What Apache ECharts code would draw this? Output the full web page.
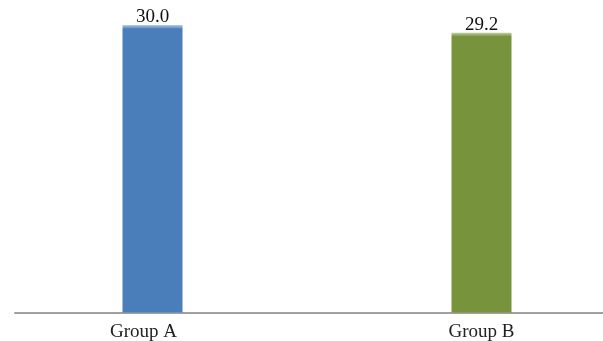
<!DOCTYPE html>
<html><head><meta charset="utf-8">
<script src="https://cdn.jsdelivr.net/npm/echarts@6/dist/echarts.min.js"></script>
<style>html,body{margin:0;padding:0;background:#fff}#c{width:603px;height:341px}</style>
</head><body><div id="c"></div>
<script>
const categories = ['Group A', 'Group B'];
const values = [30.0, 29.2];
const colors = ['#4a7ebb', '#77933c'];
const lightTops = ['#b5cce8', '#c2d3a3'];

const labelPads = [[0, 18, 0, 0], [0, 0, 0, 0]];

const chart = echarts.init(document.getElementById('c'), null, {renderer: 'canvas'});
chart.setOption({
  animation: false,
  grid: [
    {left: -12, width: 658, top: 25, bottom: 28.5, outerBoundsMode: 'none', containLabel: false},
    {left: 15, right: 0, top: 25, bottom: 28.5, outerBoundsMode: 'none', containLabel: false}
  ],
  xAxis: [
    {type: 'category', gridIndex: 0,
     data: categories.map((c, i) => ({value: c, textStyle: {padding: labelPads[i]}})),
     axisLine: {show: false}, axisTick: {show: false},
     axisLabel: {color: '#222', fontFamily: 'Liberation Serif', fontSize: 19, margin: 10}},
    {type: 'category', data: categories, gridIndex: 1,
     axisLine: {show: true, lineStyle: {color: '#a0a0a0', width: 2}},
     axisTick: {show: false}, axisLabel: {show: false}}
  ],
  yAxis: [
    {type: 'value', min: 0, max: 30, gridIndex: 0, show: false},
    {type: 'value', min: 0, max: 30, gridIndex: 1, show: false}
  ],
  series: [{
    type: 'bar', xAxisIndex: 0, yAxisIndex: 0, barWidth: 60, z: 3,
    data: values.map((v, i) => ({
      value: v,
      itemStyle: {color: {type: 'linear', x: 0, y: 0, x2: 0, y2: 1, colorStops: [
        {offset: 0, color: lightTops[i]}, {offset: 0.014, color: colors[i]}, {offset: 1, color: colors[i]}]}}
    })),
    label: {show: true, position: 'top', distance: -2, color: '#111',
      fontFamily: 'Liberation Serif', fontSize: 19,
      formatter: p => p.value.toFixed(1)}
  }]
});
</script></body></html>
